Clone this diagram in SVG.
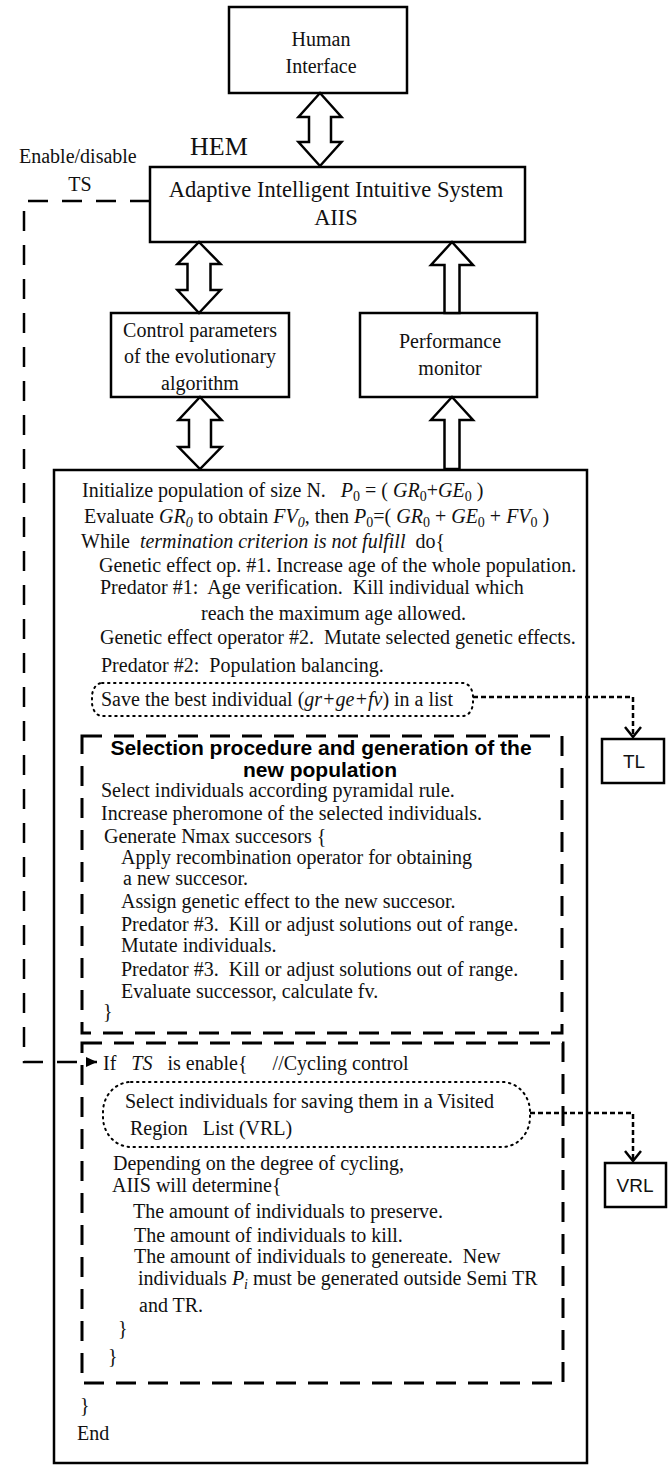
<svg xmlns="http://www.w3.org/2000/svg" width="672" height="1465" viewBox="0 0 672 1465">
<style>
.bg{fill:#fff}
.box{fill:#fff;stroke:#000;stroke-width:2.5}
.frame{fill:none;stroke:#000;stroke-width:2.5}
.t{font-family:"Liberation Serif","Times New Roman",serif;font-size:20px;fill:#111;white-space:pre}
.big{font-size:22.5px}
.hem{font-size:26px}
.s{font-family:"Liberation Sans",Arial,sans-serif;font-size:19px;fill:#111}
.hd{font-family:"Liberation Sans",Arial,sans-serif;font-size:21px;font-weight:bold;fill:#000}
.c{text-anchor:middle}
.i{font-style:italic}
.dash{fill:none;stroke:#000;stroke-width:3;stroke-dasharray:20 12}
.dot{fill:none;stroke:#000;stroke-width:2;stroke-dasharray:1.5 4.5;stroke-linecap:round}
.con{fill:none;stroke:#000;stroke-width:2.5;stroke-dasharray:5 3}
.en{fill:none;stroke:#000;stroke-width:2.5;stroke-dasharray:20 14}
.arr{fill:#fff;stroke:#000;stroke-width:2.5;stroke-linejoin:miter}
</style>
<defs>
<marker id="vee" viewBox="-1 -10 12 20" refX="10" refY="0" markerWidth="12" markerHeight="20" markerUnits="userSpaceOnUse" orient="auto">
<path d="M0,-8 L10,0 L0,8" fill="none" stroke="#000" stroke-width="2.5"/>
</marker>
<marker id="tri" viewBox="0 -6 12 12" refX="11" refY="0" markerWidth="12" markerHeight="12" markerUnits="userSpaceOnUse" orient="auto">
<path d="M0,-5 L11,0 L0,5 z" fill="#000"/>
</marker>
</defs>
<rect class="bg" x="0" y="0" width="672" height="1465"/>

<g id="node-human">
<rect class="box" x="229" y="7" width="178" height="86"/>
<text class="t c" x="321" y="46">Human</text>
<text class="t c" x="321" y="73">Interface</text>
</g>

<g id="label-hem"><text class="t hem" x="190" y="155">HEM</text></g>
<g id="label-enable">
<text class="t" x="19" y="163">Enable/disable</text>
<text class="t c" x="80" y="191">TS</text>
</g>

<g id="node-aiis">
<rect class="box" x="150" y="167" width="375" height="75"/>
<text class="t big c" x="336" y="197">Adaptive Intelligent Intuitive System</text>
<text class="t big c" x="336" y="225">AIIS</text>
</g>

<g id="node-control">
<rect class="box" x="111" y="313" width="178" height="84"/>
<text class="t c" x="200" y="337">Control parameters</text>
<text class="t c" x="200" y="363">of the evolutionary</text>
<text class="t c" x="200" y="390">algorithm</text>
</g>

<g id="node-perf">
<rect class="box" x="360" y="313" width="177" height="84"/>
<text class="t c" x="450" y="348">Performance</text>
<text class="t c" x="450" y="375">monitor</text>
</g>

<g id="node-main">
<rect class="frame" x="54" y="470" width="533" height="993"/>
<text class="t" x="82" y="497">Initialize population of size N.   <tspan class="i">P</tspan><tspan font-size="14" dy="4">0</tspan><tspan dy="-4"> = ( </tspan><tspan class="i">GR</tspan><tspan font-size="14" dy="4">0</tspan><tspan dy="-4">+</tspan><tspan class="i">GE</tspan><tspan font-size="14" dy="4">0</tspan><tspan dy="-4"> )</tspan></text>
<text class="t" x="84" y="523">Evaluate <tspan class="i">GR</tspan><tspan class="i" font-size="14" dy="4">0</tspan><tspan dy="-4"> to obtain </tspan><tspan class="i">FV</tspan><tspan class="i" font-size="14" dy="4">0</tspan><tspan dy="-4">, then </tspan><tspan class="i">P</tspan><tspan font-size="14" dy="4">0</tspan><tspan dy="-4">=( </tspan><tspan class="i">GR</tspan><tspan font-size="14" dy="4">0</tspan><tspan dy="-4"> + </tspan><tspan class="i">GE</tspan><tspan font-size="14" dy="4">0</tspan><tspan dy="-4"> + </tspan><tspan class="i">FV</tspan><tspan font-size="14" dy="4">0</tspan><tspan dy="-4"> )</tspan></text>
<text class="t" x="81" y="548">While  <tspan class="i">termination criterion is not fulfill</tspan>  do{</text>
<text class="t" x="99" y="572">Genetic effect op. #1. Increase age of the whole population.</text>
<text class="t" x="100" y="594">Predator #1:  Age verification.  Kill individual which</text>
<text class="t" x="201" y="620">reach the maximum age allowed.</text>
<text class="t" x="100" y="644">Genetic effect operator #2.  Mutate selected genetic effects.</text>
<text class="t" x="101" y="672">Predator #2:  Population balancing.</text>
<text class="t" x="80" y="1412">}</text>
<text class="t" x="77" y="1440">End</text>
</g>

<g id="node-save">
<rect class="dot" x="92" y="683" width="381" height="33" rx="10" ry="14"/>
<text class="t" x="101" y="706">Save the best individual (<tspan class="i">gr+ge+fv</tspan>) in a list</text>
</g>

<g id="node-selection">
<rect class="dash" x="82" y="736" width="480" height="297"/>
<text class="hd c" x="321" y="755">Selection procedure and generation of the</text>
<text class="hd c" x="320" y="777">new population</text>
<text class="t" x="101" y="797">Select individuals according pyramidal rule.</text>
<text class="t" x="101" y="820">Increase pheromone of the selected individuals.</text>
<text class="t" x="104" y="843">Generate Nmax succesors {</text>
<text class="t" x="121" y="864">Apply recombination operator for obtaining</text>
<text class="t" x="123" y="885">a new succesor.</text>
<text class="t" x="121" y="908">Assign genetic effect to the new succesor.</text>
<text class="t" x="121" y="931">Predator #3.  Kill or adjust solutions out of range.</text>
<text class="t" x="121" y="952">Mutate individuals.</text>
<text class="t" x="121" y="976">Predator #3.  Kill or adjust solutions out of range.</text>
<text class="t" x="121" y="998">Evaluate successor, calculate fv.</text>
<text class="t" x="103" y="1018">}</text>
</g>

<g id="node-ifts">
<rect class="dash" x="82" y="1043" width="481" height="340"/>
<text class="t" x="103" y="1070">If   <tspan class="i">TS</tspan>   is enable{     //Cycling control</text>
<text class="t" x="113" y="1170">Depending on the degree of cycling,</text>
<text class="t" x="112" y="1192">AIIS will determine{</text>
<text class="t" x="133" y="1218">The amount of individuals to preserve.</text>
<text class="t" x="134" y="1242">The amount of individuals to kill.</text>
<text class="t" x="134" y="1263">The amount of individuals to genereate.  New</text>
<text class="t" x="138" y="1285">individuals <tspan class="i">P</tspan><tspan class="i" font-size="14" dy="4">i</tspan><tspan dy="-4"> must be generated outside Semi TR</tspan></text>
<text class="t" x="139" y="1312">and TR.</text>
<text class="t" x="118" y="1335">}</text>
<text class="t" x="108" y="1363">}</text>
</g>

<g id="node-vrl-select">
<rect class="dot" x="103" y="1082" width="427" height="65" rx="28" ry="30"/>
<text class="t" x="125" y="1108">Select individuals for saving them in a Visited</text>
<text class="t" x="130" y="1135">Region   List (VRL)</text>
</g>

<g id="node-tl">
<rect class="box" x="602" y="739" width="62" height="44"/>
<text class="s c" x="634" y="768">TL</text>
</g>

<g id="node-vrl">
<rect class="box" x="605" y="1163" width="61" height="44"/>
<text class="s c" x="635" y="1192">VRL</text>
</g>

<g id="connectors">
<polygon id="arr-hi-aiis" class="arr" points="320,93 341.5,117 331,117 331,142 341.5,142 320,166 298.5,142 309,142 309,117 298.5,117"/>
<polygon id="arr-aiis-ctrl" class="arr" points="199,242 220.5,264 210.5,264 210.5,290 220.5,290 199,313 177.5,290 187.5,290 187.5,264 177.5,264"/>
<polygon id="arr-ctrl-main" class="arr" points="200,397 221.5,420 211,420 211,447 221.5,447 200,469 178.5,447 189,447 189,420 178.5,420"/>
<polygon id="arr-perf-aiis" class="arr" points="452,242 473,265 459.5,265 459.5,313 444.5,313 444.5,265 431,265"/>
<polygon id="arr-main-perf" class="arr" points="452,397 473,420 459.5,420 459.5,469 444.5,469 444.5,420 431,420"/>
<path id="con-enable" class="en" d="M150,201 H24 V1062 H97" marker-end="url(#tri)"/>
<path id="con-tl" class="con" d="M473,697 H633 V737" marker-end="url(#vee)"/>
<path id="con-vrl" class="con" d="M530,1113 H633 V1161" marker-end="url(#vee)"/>
</g>
</svg>
